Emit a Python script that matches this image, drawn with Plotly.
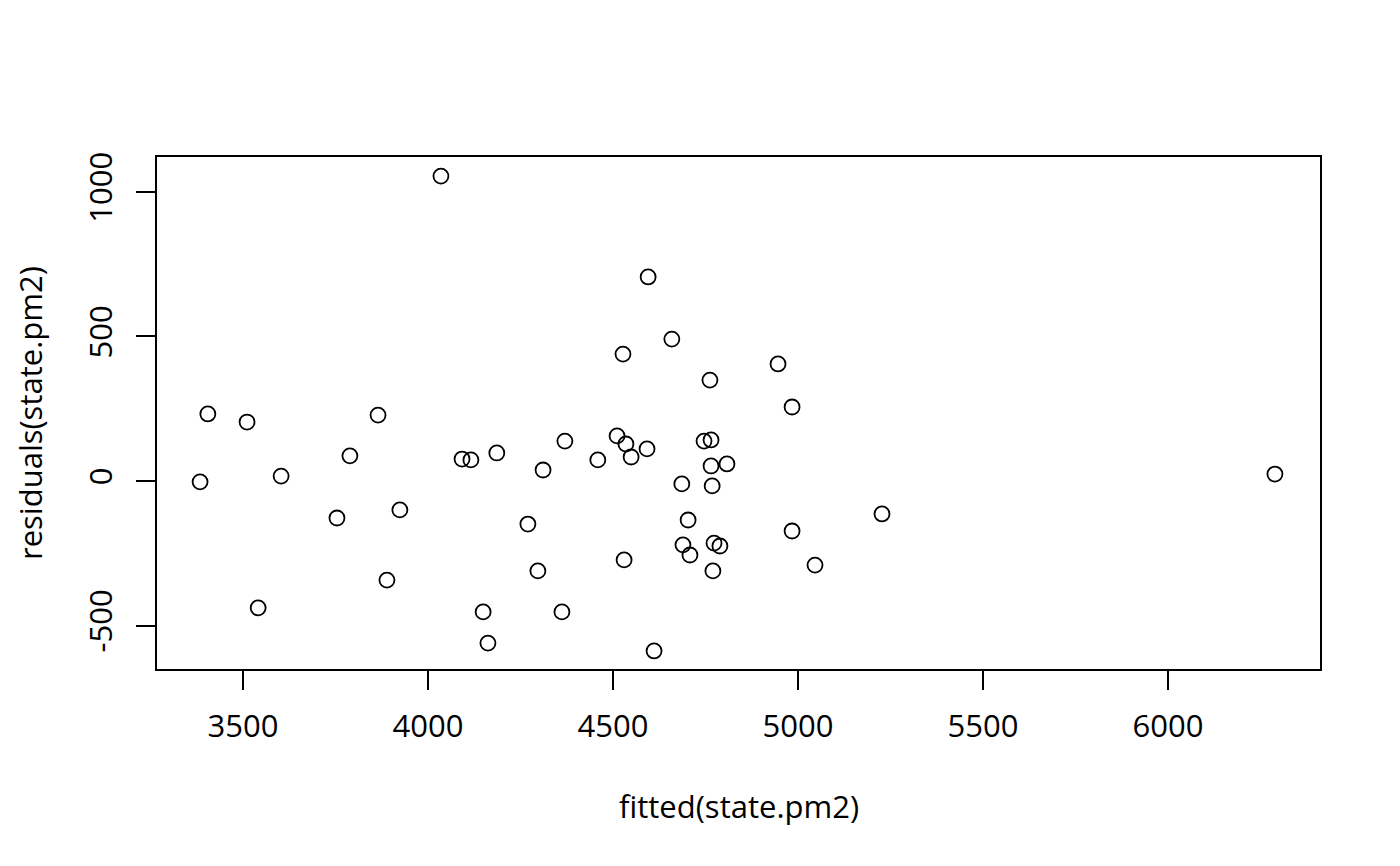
import plotly.graph_objects as go

fitted = [4035, 4595, 4659, 4527, 4946, 4762, 4984, 3405, 3865, 3511,
          4511, 4370, 4746, 4765, 4535, 4592, 4186, 3789, 4092, 4116,
          4549, 4459, 4765, 4808, 4311, 3603, 6289, 3384, 4686, 4768,
          3924, 3754, 5227, 4703, 4270, 4984, 4689, 4773, 4789, 4708,
          4530, 5046, 4297, 4770, 3889, 3541, 4149, 4362, 4162, 4611]
resid = [1055, 706, 491, 439, 405, 349, 256, 232, 228, 204,
         156, 138, 138, 142, 128, 111, 97, 87, 76, 73,
         83, 73, 52, 59, 38, 17, 24, -3, -10, -17,
         -100, -128, -114, -135, -149, -173, -221, -215, -225, -256,
         -273, -291, -311, -311, -343, -439, -453, -453, -561, -588]

x_ticks = [3500, 4000, 4500, 5000, 5500, 6000]
y_ticks = [-500, 0, 500, 1000]
y_ticktext = ["-500", "0", "500", "1000"]

FONT = "Open Sans"
FS = 31

fig = go.Figure(go.Scatter(
    x=fitted, y=resid, mode="markers",
    marker=dict(symbol="circle-open", size=15, color="black",
                line=dict(width=1.8, color="black")),
    hoverinfo="x+y", showlegend=False))

fig.update_layout(
    width=1400, height=866,
    margin=dict(l=149, r=88, t=149, b=205),
    paper_bgcolor="white", plot_bgcolor="white",
    font=dict(family=FONT, size=FS, color="black"),
    xaxis=dict(range=[3267.6, 6410.8], tickvals=x_ticks, ticks="outside",
               ticklen=19, tickwidth=1.6, tickcolor="black",
               showline=True, linecolor="black", linewidth=1.6, mirror=True,
               showgrid=False, zeroline=False, ticklabelstandoff=10,
               tickfont=dict(family=FONT, size=FS)),
    yaxis=dict(range=[-650.5, 1121], tickvals=y_ticks, ticktext=y_ticktext,
               ticks="outside",
               ticklen=19, tickwidth=1.6, tickcolor="black",
               showline=True, linecolor="black", linewidth=1.6, mirror=True,
               showgrid=False, zeroline=False, tickangle=-90,
               ticklabelstandoff=12,
               tickfont=dict(family=FONT, size=FS)),
    annotations=[
        dict(text="fitted(state.pm2)", xref="paper", yref="paper", x=0.5, y=0,
             xanchor="center", yanchor="middle", yshift=-137, showarrow=False,
             font=dict(family=FONT, size=FS)),
        dict(text="residuals(state.pm2)", xref="paper", yref="paper", x=0, y=0.5,
             xanchor="center", yanchor="middle", xshift=-127, textangle=-90,
             showarrow=False, font=dict(family=FONT, size=FS)),
    ],
)

fig.write_html("out.html")
